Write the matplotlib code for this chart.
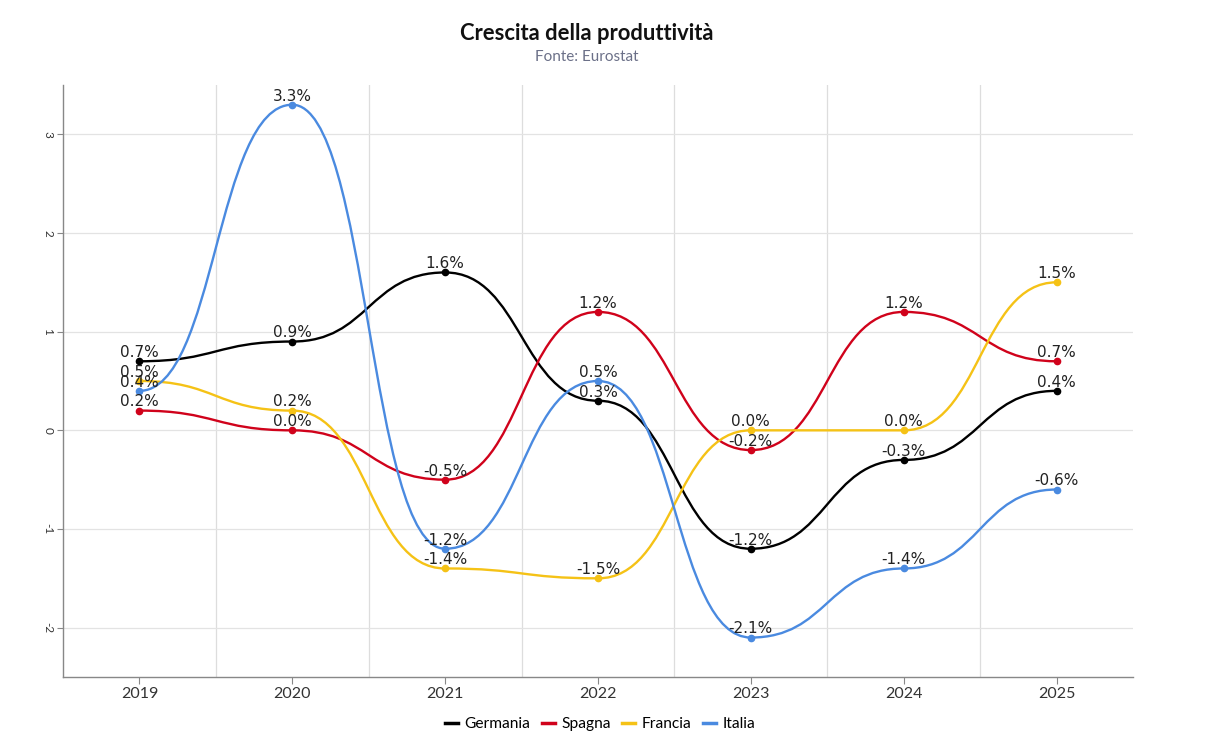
import matplotlib
matplotlib.use("Agg")
import matplotlib.pyplot as plt
from matplotlib.path import Path
from matplotlib.patches import PathPatch
from matplotlib.lines import Line2D

years = ["2019", "2020", "2021", "2022", "2023", "2024", "2025"]
germania = [0.7, 0.9, 1.6, 0.3, -1.2, -0.3, 0.4]
spagna = [0.2, 0.0, -0.5, 1.2, -0.2, 1.2, 0.7]
francia = [0.5, 0.2, -1.4, -1.5, 0.0, 0.0, 1.5]
italia = [0.4, 3.3, -1.2, 0.5, -2.1, -1.4, -0.6]

series_names = ["Germania", "Spagna", "Francia", "Italia"]
series_values = [germania, spagna, francia, italia]
colors = ["#000000", "#d0021b", "#f5c216", "#4a8ae0"]


def bump_path(xs, ys):
    verts = [(xs[0], ys[0])]
    codes = [Path.MOVETO]
    for i in range(1, len(xs)):
        xm = (xs[i - 1] + xs[i]) / 2
        verts += [(xm, ys[i - 1]), (xm, ys[i]), (xs[i], ys[i])]
        codes += [Path.CURVE4] * 3
    return Path(verts, codes)


fig = plt.figure(figsize=(12.28, 7.54), dpi=100)
ax = fig.add_axes([63 / 1228, 1 - 677 / 754, (1133 - 63) / 1228, (677 - 85) / 754])

xs = list(range(len(years)))
for name, vals, col in zip(series_names, series_values, colors):
    p = bump_path(xs, vals)
    ax.add_patch(PathPatch(p, fill=False, edgecolor=col, lw=1.7, zorder=3,
                           capstyle="round", joinstyle="round"))
    ax.plot(xs, vals, linestyle="none", marker="o", markersize=4.5,
            color=col, zorder=4)
    for x, v in zip(xs, vals):
        ax.annotate(f"{v:.1f}%", (x, v), xytext=(0, 0.8), textcoords="offset points",
                    ha="center", va="bottom", fontsize=11, color="#222222",
                    family="DejaVu Sans", zorder=5)

ax.set_xlim(-0.5, 6.5)
ax.set_ylim(-2.5, 3.5)
ax.set_xticks(xs)
ax.set_xticklabels(years, family="Lato", fontsize=11.5, color="#333333")
ax.set_xticks([i + 0.5 for i in range(len(years) - 1)], minor=True)
ax.set_yticks([-2, -1, 0, 1, 2, 3])
ax.set_yticklabels(["-2", "-1", "0", "1", "2", "3"], rotation=-90,
                   family="Lato", fontsize=8.5, color="#333333", va="center")
ax.tick_params(axis="x", which="major", length=5, color="#888888", pad=2.5)
ax.tick_params(axis="x", which="minor", length=0)
ax.tick_params(axis="y", length=4, color="#888888", pad=3)
ax.grid(axis="x", which="minor", color="#dddddd", lw=0.9)
ax.grid(axis="y", which="major", color="#e3e3e3", lw=0.9)
ax.set_axisbelow(True)
for s in ["top", "right"]:
    ax.spines[s].set_visible(False)
for s in ["left", "bottom"]:
    ax.spines[s].set_color("#888888")
    ax.spines[s].set_linewidth(1.0)

fig.text(587 / 1228, 1 - 33 / 754, "Crescita della produttività", ha="center", va="center",
         family="Lato", fontweight="bold", fontsize=15.8, color="#111111")
fig.text(587 / 1228, 1 - 57 / 754, "Fonte: Eurostat", ha="center", va="center",
         family="Lato", fontsize=11, color="#6b7088")

handles = [Line2D([0], [0], color=c, lw=2.5) for c in colors]
fig.legend(handles, series_names, loc="center", bbox_to_anchor=(600 / 1228, 1 - 724 / 754),
           ncol=4, frameon=False, handlelength=0.85, handletextpad=0.4,
           columnspacing=0.75, prop={"family": "Lato", "size": 11.2})

fig.savefig("out.png", dpi=100)
